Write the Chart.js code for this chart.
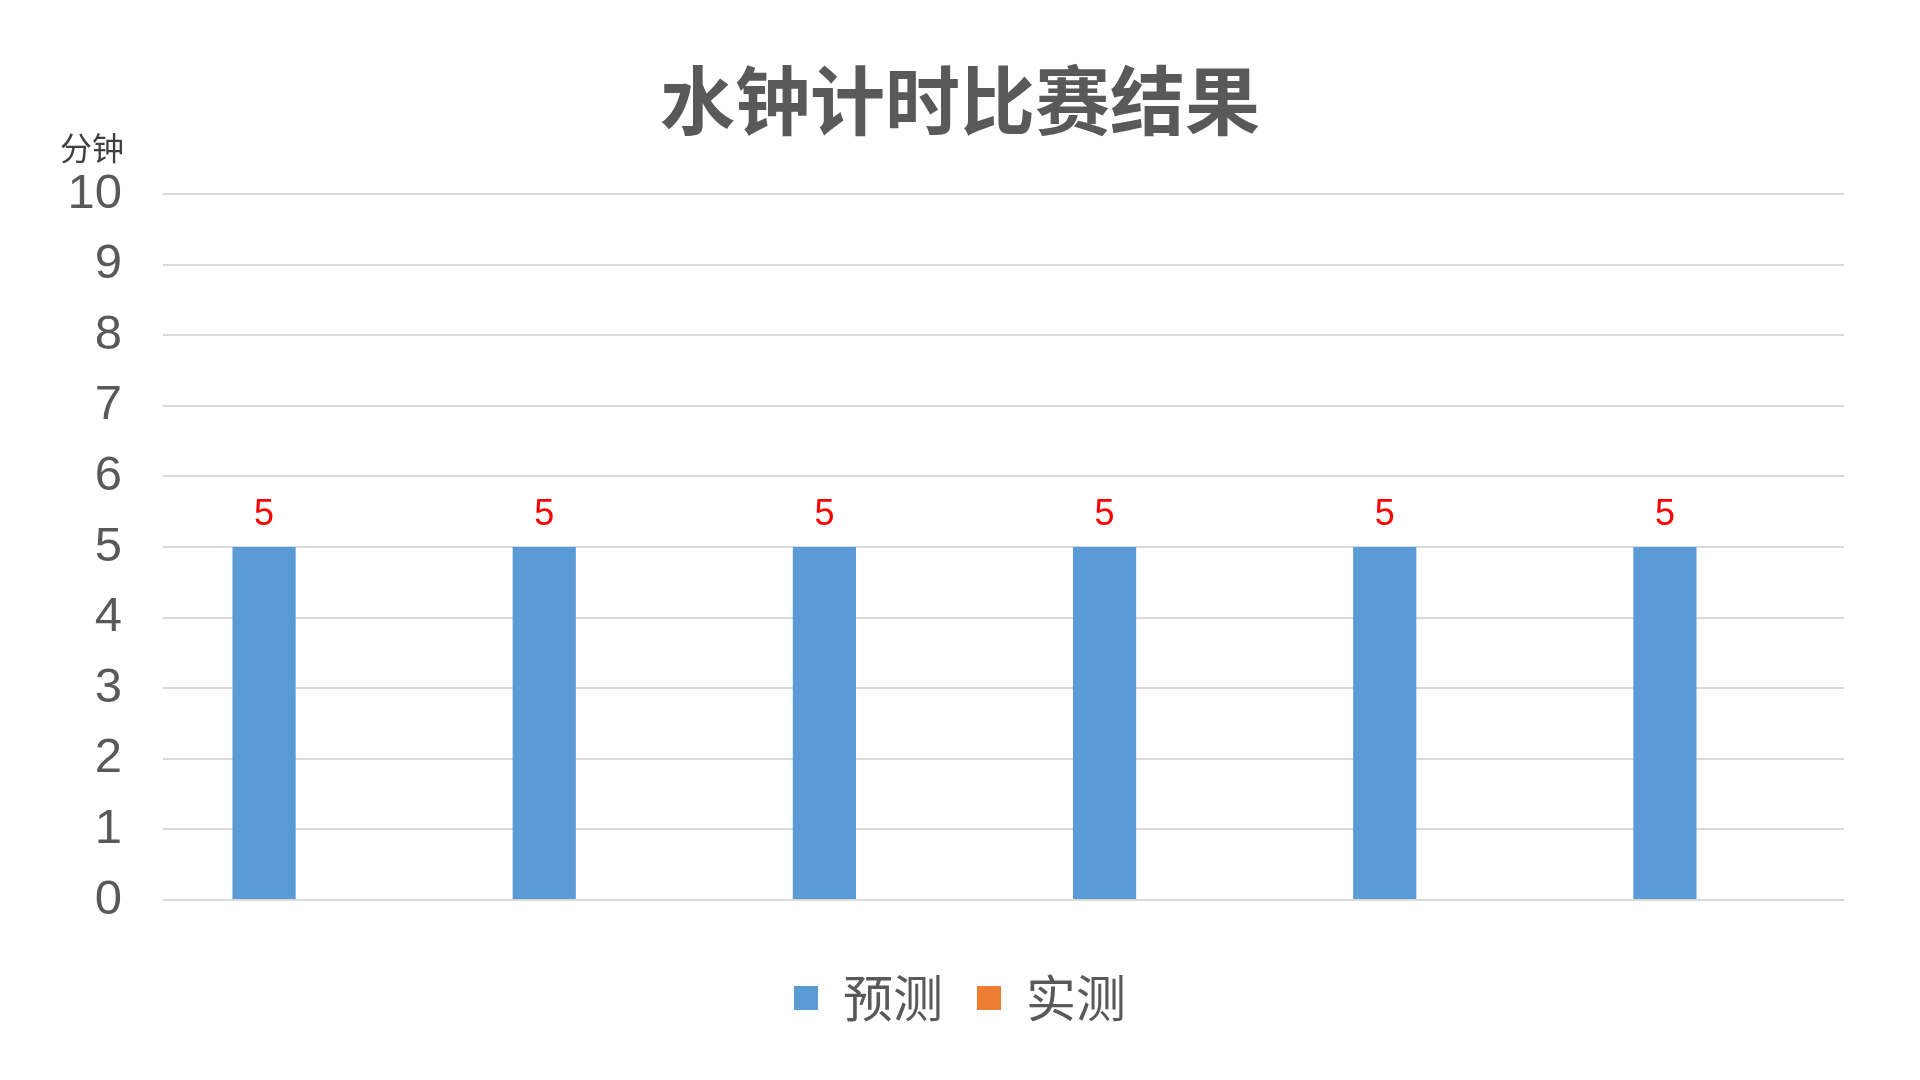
<!DOCTYPE html>
<html>
<head>
<meta charset="utf-8">
<title>水钟计时比赛结果</title>
<script src="https://cdn.jsdelivr.net/npm/chart.js@4"></script>
<style>
  body { margin: 0; background: #fff; }
  #wrap { width: 1920px; height: 1080px; }
</style>
</head>
<body>
<div id="wrap"><canvas id="waterClock" width="1920" height="1080"></canvas></div>
<script>
// data
const categories = ['', '', '', '', '', ''];
const predicted = [5, 5, 5, 5, 5, 5];
const actual = [null, null, null, null, null, null];
const yTicks = [0, 1, 2, 3, 4, 5, 6, 7, 8, 9, 10];

const fontFamily = "'Liberation Sans', 'Noto Sans CJK SC', sans-serif";
const cjkFont = "'Noto Sans CJK SC', 'Liberation Sans', sans-serif";

// value labels above the bars
const barValues = {
    id: 'barValues',
    afterDatasetsDraw(chart) {
        const ctx = chart.ctx;
        ctx.save();
        ctx.fillStyle = '#FF0000';
        ctx.font = '36px ' + fontFamily;
        ctx.textAlign = 'center';
        ctx.textBaseline = 'alphabetic';
        chart.data.datasets.forEach((ds, i) => {
            const meta = chart.getDatasetMeta(i);
            meta.data.forEach((bar, j) => {
                if (ds.data[j] == null) return;
                ctx.fillText(ds.data[j], bar.x, bar.y - 22);
            });
        });
        ctx.restore();
    }
};

// unit label over the y axis
const unitLabel = {
    id: 'unitLabel',
    afterDraw(chart) {
        const ctx = chart.ctx;
        const y = chart.scales.y;
        ctx.save();
        ctx.fillStyle = '#404040';
        ctx.font = '32px ' + cjkFont;
        ctx.textAlign = 'center';
        ctx.textBaseline = 'middle';
        ctx.fillText('分钟', 92, y.top - 46);
        ctx.restore();
    }
};

const ctx = document.getElementById('waterClock').getContext('2d');
const waterClock = new Chart(ctx, {
    type: 'bar',
    data: {
        labels: categories,
        datasets: [{
            label: '预测',
            data: predicted,
            backgroundColor: '#5B9BD5',
            categoryPercentage: 0.557,
            barPercentage: 0.81
        }, {
            label: '实测',
            data: actual,
            backgroundColor: '#ED7D31',
            categoryPercentage: 0.557,
            barPercentage: 0.81
        }]
    },
    options: {
        responsive: false,
        animation: false,
        layout: {
            padding: { left: 0, right: 0, top: 0, bottom: 47 }
        },
        scales: {
            x: {
                grid: { display: false },
                border: { display: false },
                ticks: { display: false },
                afterFit(scale) { scale.height = 39; }
            },
            y: {
                min: 0,
                max: 10,
                afterBuildTicks(scale) {
                    scale.ticks = yTicks.map(v => ({ value: v }));
                },
                afterFit(scale) { scale.width = 163; },
                grid: {
                    color: '#D9D9D9',
                    lineWidth: 2,
                    drawTicks: false
                },
                border: { display: false },
                ticks: {
                    padding: 41,
                    color: '#595959',
                    font: { family: fontFamily, size: 49 }
                }
            },
            // empty right margin so the title stays centred on the page
            yRight: {
                position: 'right',
                min: 0,
                max: 10,
                grid: { display: false },
                border: { display: false },
                ticks: { display: false },
                afterFit(scale) { scale.width = 76; }
            }
        },
        plugins: {
            title: {
                display: true,
                text: '水钟计时比赛结果',
                color: '#595959',
                font: { family: cjkFont, size: 75, weight: 'bold' },
                padding: { top: 55, bottom: 49 }
            },
            legend: {
                position: 'bottom',
                labels: {
                    color: '#595959',
                    boxWidth: 24,
                    boxHeight: 24,
                    padding: 34,
                    font: { family: cjkFont, size: 50 }
                }
            },
            tooltip: { enabled: false }
        }
    },
    plugins: [barValues, unitLabel]
});
</script>
</body>
</html>
